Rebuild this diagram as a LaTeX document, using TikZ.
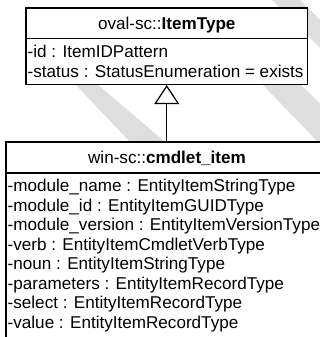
\documentclass[tikz,border=0pt]{standalone}
\usepackage{fontspec}
\setmainfont{Liberation Sans}
\usetikzlibrary{arrows.meta}
\definecolor{wm}{RGB}{222,222,222}
\tikzset{
  umlbox/.style={draw=black, line width=1.2pt, fill=white, inner sep=0pt},
  sepline/.style={draw=black, line width=1.2pt},
  hdr/.style={anchor=base, inner sep=0pt, font=\fontsize{17.1}{19}\selectfont},
  attr/.style={anchor=base west, inner sep=0pt, font=\fontsize{17.1}{19}\selectfont},
  band/.style={fill=wm, draw=none},
  inherit/.style={line width=1.2pt, -{Triangle[length=19pt,width=25pt,fill=white,line width=1.2pt]}}
}
\begin{document}
\begin{tikzpicture}[x=1pt,y=-1pt]
\useasboundingbox (0,0) rectangle (320,337);
\fill[white] (0,0) rectangle (320,337);
% watermark bands
\path[band] (272,0) -- (300,0) -- (320,20) -- (320,48) -- cycle;
\path[band] (262,84) -- (300,84) -- (320,104) -- (320,142) -- (318,142) -- cycle;
\path[band] (75,84) -- (97,84) -- (165,142) -- (130,142) -- cycle;
% top class
\node[umlbox, minimum width=281.5pt, minimum height=76.5pt] (top) at (166.75,46.25) {};
\coordinate (ts) at (26,38.5);
\draw[sepline] (ts) -- (ts -| top.east);
\node[hdr] (topname) at (166.75,29.3) {oval-sc::\textbf{ItemType}};
\node[attr] (a1) at (27.5,57.5) {-id : ItemIDPattern};
\node[attr] (a2) at (27.5,77.3) {-status : StatusEnumeration = exists};
% bottom class
\node[umlbox, minimum width=322pt, minimum height=218pt] (bot) at (167,251) {};
\coordinate (bs) at (6,173);
\draw[sepline] (bs) -- (bs -| bot.east);
\node[hdr] (botname) at (167,163.3) {win-sc::\textbf{cmdlet\_item}};
\node[attr] (b1) at (7.5,191.7) {-module\_name : EntityItemStringType};
\node[attr] (b2) at (7.5,211.2) {-module\_id : EntityItemGUIDType};
\node[attr] (b3) at (7.5,230.7) {-module\_version : EntityItemVersionType};
\node[attr] (b4) at (7.5,250.2) {-verb : EntityItemCmdletVerbType};
\node[attr] (b5) at (7.5,269.7) {-noun : EntityItemStringType};
\node[attr] (b6) at (7.5,289.2) {-parameters : EntityItemRecordType};
\node[attr] (b7) at (7.5,308.7) {-select : EntityItemRecordType};
\node[attr] (b8) at (7.5,328.2) {-value : EntityItemRecordType};
% generalization
\draw[inherit] (bot.north -| top.south) -- (top.south);
\end{tikzpicture}
\end{document}
